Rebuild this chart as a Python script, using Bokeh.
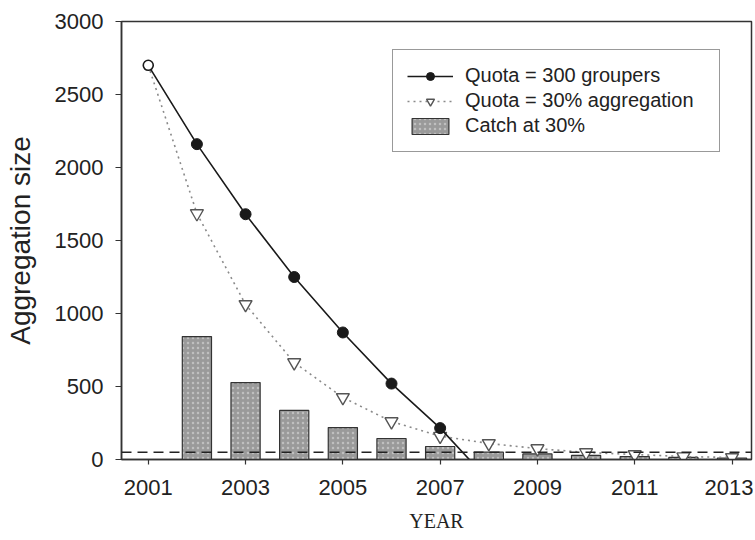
from bokeh.plotting import figure
from bokeh.models import Span, Legend, LegendItem, FixedTicker, Range1d
from bokeh.embed import file_html
from bokeh.resources import INLINE

# Data
years = [2001, 2002, 2003, 2004, 2005, 2006, 2007, 2008, 2009, 2010, 2011, 2012, 2013]

quota300_years = [2001, 2002, 2003, 2004, 2005, 2006, 2007, 2007.6]
quota300 = [2700, 2160, 1680, 1250, 870, 520, 215, 0]

quota30_years = years
quota30 = [2700, 1685, 1062, 664, 425, 260, 160, 110, 75, 48, 34, 20, 14]

catch_years = [2002, 2003, 2004, 2005, 2006, 2007, 2008, 2009, 2010, 2011, 2012, 2013]
catch30 = [842, 527, 336, 219, 144, 89, 50, 38, 28, 20, 14, 10]

threshold = 50
x_ticks = [2001, 2003, 2005, 2007, 2009, 2011, 2013]
y_ticks = [0, 500, 1000, 1500, 2000, 2500, 3000]

p = figure(width=753, height=539, output_backend="svg", toolbar_location=None,
           x_range=Range1d(2000.45, 2013.4), y_range=Range1d(0, 3000),
           min_border_left=121, min_border_top=21, min_border_right=2, min_border_bottom=80)

p.xgrid.visible = False
p.ygrid.visible = False
p.outline_line_color = "#333333"
p.outline_line_width = 1.5
p.background_fill_color = "white"
p.border_fill_color = "white"

# Bars
bars = p.vbar(x=catch_years, top=catch30, width=0.6, bottom=0,
              fill_color="#9a9a9a", line_color="#333333", line_width=1.2,
              hatch_pattern="dot", hatch_color="#d8d8d8", hatch_scale=5, hatch_alpha=0.6)

# Dashed threshold line
p.add_layout(Span(location=threshold, dimension="width", line_color="#222222",
                  line_width=1.5, line_dash="10 6"))

# Quota = 30% aggregation (dotted, open inverted triangles)
l30 = p.line(quota30_years, quota30, line_color="#8a8a8a", line_width=1.6, line_dash="2 4")
m30 = p.scatter(quota30_years[1:], quota30[1:], marker="inverted_triangle", size=13,
                fill_color="white", line_color="#555555", line_width=1.4)

# Quota = 300 groupers (solid, filled circles)
l300 = p.line(quota300_years, quota300, line_color="#1a1a1a", line_width=1.6)
m300 = p.scatter(quota300_years[1:7], quota300[1:7], marker="circle", size=11,
                 fill_color="#1a1a1a", line_color="#1a1a1a")
p.scatter(quota300_years[:1], quota300[:1], marker="circle", size=10,
          fill_color="white", line_color="#1a1a1a", line_width=1.6)

# Axes
for ax in (p.xaxis[0], p.yaxis[0]):
    ax.axis_line_color = "#333333"
    ax.axis_line_width = 1.5
    ax.major_tick_line_color = "#333333"
    ax.major_tick_line_width = 1.2
    ax.major_tick_in = 0
    ax.minor_tick_line_color = None
    ax.major_label_text_font = "Liberation Sans"
    ax.major_label_text_color = "#222222"

p.xaxis.ticker = FixedTicker(ticks=x_ticks)
p.yaxis.ticker = FixedTicker(ticks=y_ticks)
p.xaxis.major_tick_out = 5
p.yaxis.major_tick_out = 6
p.xaxis.major_label_text_font_size = "22px"
p.yaxis.major_label_text_font_size = "22px"
p.xaxis.major_label_standoff = 15
p.yaxis.major_label_standoff = 12

p.xaxis.axis_label = "YEAR"
p.xaxis.axis_label_text_font = "Liberation Serif"
p.xaxis.axis_label_text_font_style = "normal"
p.xaxis.axis_label_text_font_size = "20px"
p.xaxis.axis_label_text_color = "#222222"
p.xaxis.axis_label_standoff = 12

p.yaxis.axis_label = "Aggregation size"
p.yaxis.axis_label_text_font = "Liberation Sans"
p.yaxis.axis_label_text_font_style = "normal"
p.yaxis.axis_label_text_font_size = "28px"
p.yaxis.axis_label_text_color = "#222222"
p.yaxis.axis_label_standoff = 16

legend = Legend(items=[
    LegendItem(label="Quota = 300 groupers", renderers=[l300, m300]),
    LegendItem(label="Quota = 30% aggregation", renderers=[l30, m30]),
    LegendItem(label="Catch at 30%", renderers=[bars]),
], location=(271, 307))
legend.label_text_font = "Liberation Sans"
legend.label_text_font_size = "20px"
legend.label_text_color = "#222222"
legend.glyph_width = 46
legend.glyph_height = 20
legend.label_height = 20
legend.label_width = 240
legend.spacing = 2
legend.padding = 14
legend.margin = 0
legend.label_standoff = 12
legend.border_line_color = "#333333"
legend.border_line_width = 1.2
legend.background_fill_color = "white"
legend.background_fill_alpha = 1
p.add_layout(legend, "center")

open("out.html", "w").write(file_html(p, INLINE))
